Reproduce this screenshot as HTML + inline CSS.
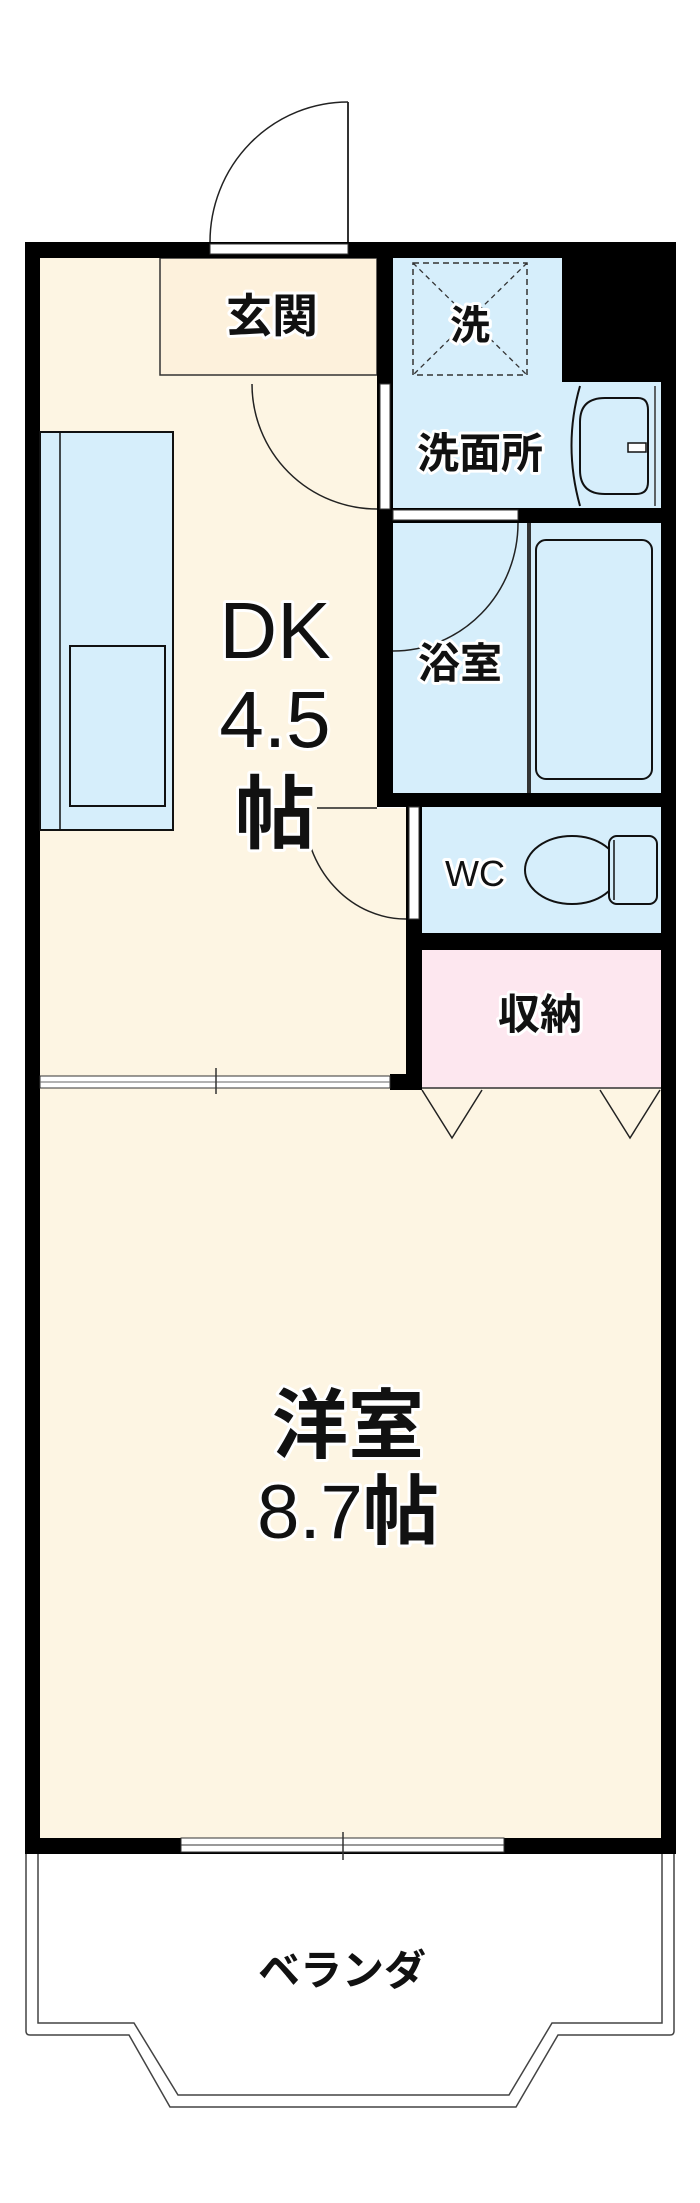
<!DOCTYPE html>
<html><head><meta charset="utf-8"><style>
html,body{margin:0;padding:0;background:#fff;}
svg{display:block;}
text{font-family:"Liberation Sans","Noto Sans CJK JP",sans-serif;fill:#111;text-anchor:middle;paint-order:stroke;stroke:#fff;stroke-width:6px;stroke-linejoin:round;}
text.b{font-weight:bold;}
</style></head><body>
<svg width="700" height="2203" viewBox="0 0 700 2203" xmlns="http://www.w3.org/2000/svg">
<rect x="40" y="258" width="337" height="830" fill="#fdf5e3"/>
<rect x="377" y="808" width="30" height="280" fill="#fdf5e3"/>
<rect x="40" y="1088" width="621" height="750" fill="#fdf5e3"/>
<rect x="393" y="258" width="268" height="535" fill="#d6eefb"/>
<rect x="422" y="807" width="239" height="126" fill="#d6eefb"/>
<rect x="422" y="950" width="239" height="138" fill="#fde7ef"/>
<rect x="160" y="258" width="217" height="117" fill="#fdf1dc" stroke="#333" stroke-width="1.5"/>
<rect x="25" y="242" width="651" height="16" fill="#000"/>
<rect x="210" y="244" width="138" height="10" fill="#fff" stroke="#333" stroke-width="1"/>
<rect x="25" y="242" width="15" height="1612" fill="#000"/>
<rect x="661" y="242" width="15" height="1612" fill="#000"/>
<rect x="25" y="1838" width="651" height="16" fill="#000"/>
<rect x="181" y="1838" width="323" height="14" fill="#fff" stroke="#333" stroke-width="1"/>
<line x1="181" y1="1845" x2="504" y2="1845" stroke="#333" stroke-width="1"/>
<line x1="343" y1="1832" x2="343" y2="1860" stroke="#333" stroke-width="1.5"/>
<line x1="348" y1="102" x2="348" y2="242" stroke="#333" stroke-width="2"/>
<path d="M210 242 A138 140 0 0 1 348 102" fill="none" stroke="#222" stroke-width="1.5"/>
<rect x="377" y="242" width="16" height="565" fill="#000"/>
<rect x="380" y="384" width="10" height="125" fill="#fff" stroke="#333" stroke-width="1"/>
<path d="M252 384 A125 125 0 0 0 377 509" fill="none" stroke="#222" stroke-width="1.5"/>
<rect x="562" y="258" width="99" height="124" fill="#000"/>
<rect x="413" y="263" width="114" height="112" fill="none" stroke="#333" stroke-width="1.5" stroke-dasharray="6,4"/>
<line x1="413" y1="263" x2="527" y2="375" stroke="#333" stroke-width="1.3" stroke-dasharray="5,4"/>
<line x1="527" y1="263" x2="413" y2="375" stroke="#333" stroke-width="1.3" stroke-dasharray="5,4"/>
<path d="M580 386 Q563 445 580 506" fill="none" stroke="#111" stroke-width="2"/>
<line x1="655" y1="386" x2="655" y2="506" stroke="#333" stroke-width="1.5"/>
<path d="M605 398 L638 398 Q648 398 648 410 L648 482 Q648 494 636 494 L605 494 Q580 494 580 470 L580 422 Q580 398 605 398 Z" fill="none" stroke="#111" stroke-width="2"/>
<rect x="628" y="443" width="18" height="9" fill="#fff" stroke="#111" stroke-width="1.5"/>
<rect x="393" y="508" width="283" height="15" fill="#000"/>
<rect x="393" y="510" width="125" height="10" fill="#fff" stroke="#333" stroke-width="1"/>
<path d="M518 523 A125 128 0 0 1 393 651" fill="none" stroke="#222" stroke-width="1.5"/>
<rect x="527" y="523" width="4" height="270" fill="#333"/>
<rect x="536" y="540" width="116" height="239" rx="10" fill="#d6eefb" stroke="#111" stroke-width="2"/>
<rect x="377" y="793" width="299" height="14" fill="#000"/>
<rect x="406" y="807" width="16" height="283" fill="#000"/>
<rect x="409" y="807" width="10" height="112" fill="#fff" stroke="#333" stroke-width="1"/>
<path d="M304 808 A102 112 0 0 0 406 919" fill="none" stroke="#222" stroke-width="1.5"/>
<line x1="317" y1="808" x2="377" y2="808" stroke="#222" stroke-width="1.5"/>
<ellipse cx="572" cy="870" rx="47" ry="34" fill="none" stroke="#111" stroke-width="2"/>
<rect x="609" y="836" width="48" height="68" rx="8" fill="#d6eefb" stroke="#111" stroke-width="2"/>
<line x1="614" y1="840" x2="614" y2="900" stroke="#111" stroke-width="1.5"/>
<rect x="406" y="933" width="270" height="17" fill="#000"/>
<line x1="422" y1="1088" x2="661" y2="1088" stroke="#333" stroke-width="1.5"/>
<rect x="390" y="1074" width="32" height="16" fill="#000"/>
<rect x="40" y="1076" width="350" height="12" fill="#fff" stroke="#333" stroke-width="1"/>
<line x1="40" y1="1082" x2="390" y2="1082" stroke="#666" stroke-width="1"/>
<line x1="216" y1="1068" x2="216" y2="1094" stroke="#333" stroke-width="1.5"/>
<polyline points="422,1090 452,1138 482,1090" fill="none" stroke="#222" stroke-width="1.5"/>
<polyline points="600,1090 630,1138 660,1090" fill="none" stroke="#222" stroke-width="1.5"/>
<rect x="40" y="432" width="133" height="398" fill="#d6eefb" stroke="#111" stroke-width="2"/>
<line x1="60" y1="432" x2="60" y2="830" stroke="#111" stroke-width="1.5"/>
<rect x="70" y="646" width="95" height="160" fill="#d6eefb" stroke="#111" stroke-width="2"/>
<path d="M26 1854 L26 2031 Q26 2035 30 2035 L129 2035 L170 2107 L516 2107 L558 2035 L670 2035 Q674 2035 674 2031 L674 1854" fill="none" stroke="#444" stroke-width="1.5"/>
<path d="M38 1854 L38 2023 L134 2023 L178 2095 L509 2095 L552 2023 L662 2023 L662 1854" fill="none" stroke="#444" stroke-width="1.5"/>
<text class="b" x="272" y="332" font-size="46">玄関</text>
<text class="b" x="470" y="339" font-size="40">洗</text>
<text class="b" x="480" y="468" font-size="42">洗面所</text>
<text class="b" x="460" y="678" font-size="42">浴室</text>
<text x="475" y="886" font-size="36">WC</text>
<text class="b" x="540" y="1029" font-size="42">収納</text>
<text x="275" y="658" font-size="80">DK</text>
<text x="275" y="747" font-size="80">4.5</text>
<text class="b" x="275" y="842" font-size="80">帖</text>
<text class="b" x="348" y="1452" font-size="76">洋室</text>
<text x="348" y="1538" font-size="76">8.7<tspan font-weight="bold">帖</tspan></text>
<text class="b" x="342" y="1985" font-size="42">ベランダ</text>
</svg>
</body></html>
